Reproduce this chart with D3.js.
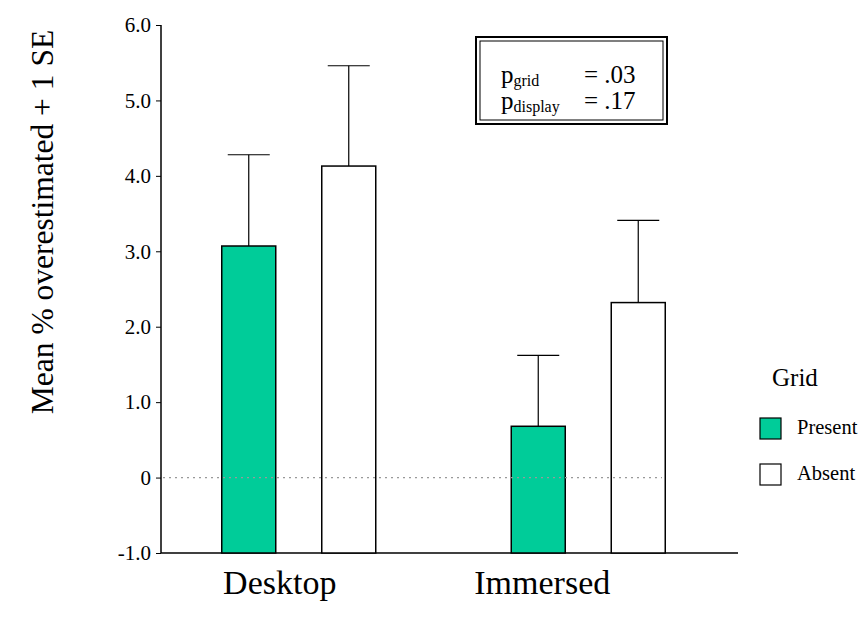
<!DOCTYPE html>
<html lang="en">
<head>
    <meta charset="UTF-8">
    <title>Mean % overestimated</title>
    <style>
        body { margin: 0; background: #fff; }
        text { font-family: "Liberation Serif", "Times New Roman", serif; fill: #000; }
    </style>
</head>
<body>
    <div id="container"></div>

    <script type="text/javascript" src="https://d3js.org/d3.v7.min.js"></script>
    <script type="text/javascript">
        // data
        var displays = ["Desktop", "Immersed"];
        var grids = ["Present", "Absent"];
        var means = [[3.07, 4.13], [0.68, 2.32]];
        var upperSE = [[4.28, 5.46], [1.62, 3.41]];
        var yTicks = [-1, 0, 1, 2, 3, 4, 5, 6];
        var yTickLabels = ["-1.0", "0", "1.0", "2.0", "3.0", "4.0", "5.0", "6.0"];
        var stats = [["grid", "= .03"], ["display", "= .17"]];

        var colors = { Present: "#00cc99", Absent: "#ffffff" };

        var svg = d3.select("#container")
            .append("svg")
            .attr("width", 867)
            .attr("height", 633);

        var y = d3.scaleLinear()
            .domain([-1, 6])
            .range([553, 25]);

        var x0 = d3.scaleBand()
            .domain(displays)
            .range([154, 733])
            .paddingInner(0);

        // bars within a group, relative to the group centre
        var x1 = d3.scaleBand()
            .domain(grids)
            .range([-77, 77])
            .paddingInner(0.46);

        // y axis
        var yAxis = d3.axisLeft(y)
            .tickValues(yTicks)
            .tickSize(5)
            .tickFormat(function(d, i) { return yTickLabels[i]; });

        var ag = svg.append("g")
            .attr("transform", "translate(161,0)")
            .call(yAxis);
        ag.select(".domain").remove();
        ag.selectAll("line").attr("stroke", "#000");
        ag.selectAll("text")
            .attr("x", -10)
            .style("font-family", "'Liberation Serif', serif")
            .style("font-size", "21px");

        svg.append("line")
            .attr("x1", 161).attr("x2", 161)
            .attr("y1", y(6)).attr("y2", y(-1))
            .attr("stroke", "#000").attr("stroke-width", 1.5);

        svg.append("line")
            .attr("x1", 161).attr("x2", 738)
            .attr("y1", y(-1)).attr("y2", y(-1))
            .attr("stroke", "#000").attr("stroke-width", 1.5);

        var groups = svg.selectAll("g.group")
            .data(displays)
            .enter()
            .append("g")
            .attr("class", "group")
            .attr("transform", function(d) { return "translate(" + (x0(d) + x0.bandwidth() / 2) + ",0)"; });

        groups.each(function(disp, i) {
            var g = d3.select(this);
            var rows = grids.map(function(gr, j) {
                return { grid: gr, mean: means[i][j], se: upperSE[i][j] };
            });

            // error bars
            g.selectAll("line.err")
                .data(rows)
                .enter()
                .append("line")
                .attr("class", "err")
                .attr("x1", function(d) { return x1(d.grid) + x1.bandwidth() / 2; })
                .attr("x2", function(d) { return x1(d.grid) + x1.bandwidth() / 2; })
                .attr("y1", function(d) { return y(d.mean); })
                .attr("y2", function(d) { return y(d.se); })
                .attr("stroke", "#000")
                .attr("stroke-width", 1.2);

            g.selectAll("line.cap")
                .data(rows)
                .enter()
                .append("line")
                .attr("class", "cap")
                .attr("x1", function(d) { return x1(d.grid) + x1.bandwidth() / 2 - 21; })
                .attr("x2", function(d) { return x1(d.grid) + x1.bandwidth() / 2 + 21; })
                .attr("y1", function(d) { return y(d.se); })
                .attr("y2", function(d) { return y(d.se); })
                .attr("stroke", "#000")
                .attr("stroke-width", 1.2);

            g.selectAll("rect")
                .data(rows)
                .enter()
                .append("rect")
                .attr("x", function(d) { return x1(d.grid); })
                .attr("width", x1.bandwidth())
                .attr("y", function(d) { return y(d.mean); })
                .attr("height", function(d) { return y(-1) - y(d.mean); })
                .attr("fill", function(d) { return colors[d.grid]; })
                .attr("stroke", "#000")
                .attr("stroke-width", 1.5);
        });

        // zero reference, drawn over the bars
        svg.append("line")
            .attr("x1", 163).attr("x2", 662)
            .attr("y1", y(0)).attr("y2", y(0))
            .attr("stroke", "#999")
            .attr("stroke-width", 1.2)
            .attr("stroke-dasharray", "2,4");

        // category labels (sit a bit left of the group centres in the original)
        var labelShift = { Desktop: -19, Immersed: -46 };
        svg.selectAll("text.cat")
            .data(displays)
            .enter()
            .append("text")
            .attr("class", "cat")
            .attr("x", function(d) { return x0(d) + x0.bandwidth() / 2 + labelShift[d]; })
            .attr("y", 594)
            .attr("text-anchor", "middle")
            .style("font-size", "34px")
            .text(function(d) { return d; });

        // y label
        svg.append("text")
            .attr("transform", "translate(53,222) rotate(-90)")
            .attr("text-anchor", "middle")
            .style("font-size", "31.5px")
            .text("Mean % overestimated + 1 SE");

        // stats box
        svg.append("rect")
            .attr("x", 476).attr("y", 37)
            .attr("width", 191).attr("height", 87)
            .attr("fill", "none").attr("stroke", "#000").attr("stroke-width", 2);
        svg.append("rect")
            .attr("x", 480).attr("y", 41)
            .attr("width", 183).attr("height", 79)
            .attr("fill", "none").attr("stroke", "#000").attr("stroke-width", 1);

        var st = svg.selectAll("g.stat")
            .data(stats)
            .enter()
            .append("g")
            .attr("class", "stat")
            .attr("transform", function(d, i) { return "translate(0," + (83 + i * 26) + ")"; });
        var pt = st.append("text")
            .attr("x", 501)
            .style("font-size", "25px");
        pt.append("tspan").text("p");
        pt.append("tspan")
            .attr("dy", 3)
            .style("font-size", "16px")
            .text(function(d) { return d[0]; });
        st.append("text")
            .attr("x", 584)
            .style("font-size", "25px")
            .text(function(d) { return d[1]; });

        // legend
        svg.append("text")
            .attr("x", 772).attr("y", 386)
            .style("font-size", "25px")
            .text("Grid");

        var lg = svg.selectAll("g.leg")
            .data(grids)
            .enter()
            .append("g")
            .attr("class", "leg")
            .attr("transform", function(d, i) { return "translate(760," + (418 + i * 46) + ")"; });
        lg.append("rect")
            .attr("width", 21).attr("height", 21)
            .attr("fill", function(d) { return colors[d]; })
            .attr("stroke", "#000").attr("stroke-width", 1.2);
        lg.append("text")
            .attr("x", 37).attr("y", 16)
            .style("font-size", "20.5px")
            .text(function(d) { return d; });
    </script>
</body>
</html>
